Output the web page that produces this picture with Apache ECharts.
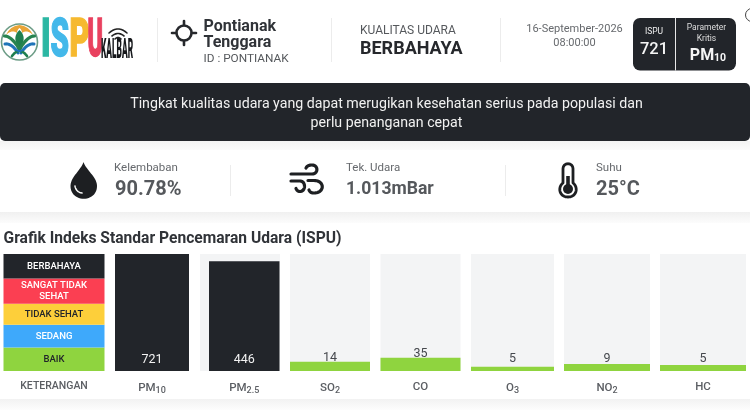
<!DOCTYPE html>
<html>
<head>
<meta charset="utf-8">
<style>html,body{margin:0;padding:0;background:#fff}#c{width:750px;height:420px;filter:blur(0.35px)}</style>
<script src="https://cdn.jsdelivr.net/npm/echarts@6/dist/echarts.min.js"></script>
</head>
<body>
<div id="c"></div>
<script>
// ---- data ----
var parameters = ['PM{s|10}', 'PM{s|2.5}', 'SO{s|2}', 'CO', 'O{s|3}', 'NO{s|2}', 'HC'];
var ispuValues = [721, 446, 14, 35, 5, 9, 5];
var fillLevels = [100, 93.7, 8, 11.4, 3.7, 6, 5.1];   // visible fill height, % of the track
var legendLabels = ['BAIK', 'SEDANG', 'TIDAK SEHAT', 'SANGAT TIDAK\nSEHAT', 'BERBAHAYA'];
var legendShares = [20, 19.5, 18, 21.5, 21];
var legendTitle = 'KETERANGAN';

// ---- layout and style ----
var DARK = '#22252a', GREEN = '#8fd43f', TRACK = '#f3f4f5';
var legendColors = [GREEN, '#3ea9fb', '#fdcf3a', '#fb3f52', DARK];
var legendText = [DARK, '#fff', DARK, '#fff', '#fff'];
var barLeft = [115, 209, 290, 380.5, 471, 564, 660];
var barRight = [189, 279.5, 370, 460.5, 554, 650, 746];
var labelGap = [0, 0, -3, -3, 1, -1, 0];
var TOP = 254, H = 117;
var base = 'Roboto, sans-serif';

var grids = [], xAxes = [], yAxes = [], series = [];
function addPanel(left, right, cat, size) {
  var i = grids.length;
  grids.push({left: left, width: right - left, top: TOP, height: H});
  xAxes.push({type: 'category', gridIndex: i, data: [cat],
    axisLine: {show: false}, axisTick: {show: false},
    axisLabel: {margin: 10, color: '#5b5e63', fontFamily: base, fontSize: size, fontWeight: 500,
      rich: {s: {fontSize: 9, fontFamily: base, fontWeight: 500, color: '#5b5e63', padding: [5, 0, 0, 0]}}}});
  yAxes.push({type: 'value', gridIndex: i, min: 0, max: 100, show: false});
  return i;
}
var li = addPanel(3.5, 104.5, legendTitle, 10.5);
legendLabels.forEach(function (name, k) {
  series.push({type: 'bar', xAxisIndex: li, yAxisIndex: li, stack: 'legend', barWidth: '100%', name: name,
    data: [legendShares[k]], itemStyle: {color: legendColors[k]}, silent: true,
    label: {show: true, position: 'inside', formatter: name, color: legendText[k],
      fontFamily: base, fontSize: 9.5, fontWeight: 500, lineHeight: 11}});
});
parameters.forEach(function (p, k) {
  var g = addPanel(barLeft[k], barRight[k], p, 11.5);
  var high = ispuValues[k] > 300;
  series.push({type: 'bar', xAxisIndex: g, yAxisIndex: g, barWidth: '100%', name: p,
    data: [fillLevels[k]], itemStyle: {color: high ? DARK : GREEN}, silent: true,
    showBackground: k !== 1, backgroundStyle: {color: TRACK},
    label: {show: true, formatter: String(ispuValues[k]),
      position: high ? 'insideBottom' : 'top', distance: high ? 5 : labelGap[k],
      color: high ? '#f2f2f2' : '#45484d', fontFamily: base, fontSize: 12.5}});
});

function T(text, x, y, font, fill, align, extra) {
  var o = {type: 'text', silent: true, style: {text: text, x: x, y: y, font: font, fill: fill,
    textAlign: align || 'left', textVerticalAlign: 'middle'}};
  if (extra) for (var k in extra) o[k] = extra[k];
  return o;
}
function R(x, y, w, h, fill, r) {
  return {type: 'rect', silent: true, shape: {x: x, y: y, width: w, height: h, r: r || 0}, style: {fill: fill}};
}
// decorative icon outlines: absolute M/H/V/Q/C/Z commands flattened to polylines and polygons
function P(d, style) {
  var tok = d.match(/[MHVQCZ]|-?[\d.]+/g), i = 0, out = [], pts = null, x = 0, y = 0, closed = false;
  function flush() {
    if (pts && pts.length > 1) {
      out.push({type: closed ? 'polygon' : 'polyline', silent: true, shape: {points: pts}, style: style});
    }
    pts = null; closed = false;
  }
  function n() { return parseFloat(tok[i++]); }
  while (i < tok.length) {
    var c = tok[i++], t, s;
    if (c === 'M') { flush(); x = n(); y = n(); pts = [[x, y]]; }
    else if (c === 'H') { x = n(); pts.push([x, y]); }
    else if (c === 'V') { y = n(); pts.push([x, y]); }
    else if (c === 'Q') {
      var qx = n(), qy = n(), ex = n(), ey = n();
      for (s = 1; s <= 16; s++) { t = s / 16;
        pts.push([(1-t)*(1-t)*x + 2*t*(1-t)*qx + t*t*ex, (1-t)*(1-t)*y + 2*t*(1-t)*qy + t*t*ey]); }
      x = ex; y = ey;
    } else if (c === 'C') {
      var ax = n(), ay = n(), bx = n(), by = n(), fx = n(), fy = n();
      for (s = 1; s <= 24; s++) { t = s / 24; var u = 1 - t;
        pts.push([u*u*u*x + 3*u*u*t*ax + 3*u*t*t*bx + t*t*t*fx, u*u*u*y + 3*u*u*t*ay + 3*u*t*t*by + t*t*t*fy]); }
      x = fx; y = fy;
    } else if (c === 'Z') { closed = true; flush(); }
  }
  flush();
  return out;
}
function vGrad(a, b) {
  return {type: 'linear', x: 0, y: 0, x2: 0, y2: 1, colorStops: [{offset: 0, color: a}, {offset: 1, color: b}]};
}
function stroke(c, w) { return {fill: null, stroke: c, lineWidth: w, lineCap: 'round', lineJoin: 'round'}; }
function glyph(t, x, sx, c) {
  var o = T(t, 0, 0, '900 53px Roboto', c, 'left', {x: x, y: 42.5, scaleX: sx, scaleY: 1});
  o.style.stroke = c; o.style.lineWidth = 1.5;
  return o;
}

var graphics = [].concat(
  // page bands
  R(0, 141, 750, 9, vGrad('#f3f3f3', '#fbfbfb')),
  R(0, 212, 750, 11, vGrad('#f0f0f0', '#fcfcfc')),
  R(0, 399, 750, 11, vGrad('#f2f2f2', '#fdfdfd')),
  // PM2.5 track
  R(200, TOP, 80, H, TRACK),

  // logo
  {type: 'circle', silent: true, shape: {cx: 19.5, cy: 42, r: 18}, style: {fill: '#fff', stroke: '#6c9c86', lineWidth: 1.6}},
  P('M6 35 Q10 26 19.5 25 Q29 26 33 35 Q27 29 22 33 Q22 30 19.5 28 Q17 30 17 33 Q12 29 6 35Z', {fill: '#e9a436'}),
  P('M19.5 30 C26 36 24 43 19.5 48 C15 43 13 36 19.5 30Z', {fill: '#1f7f4f'}),
  P('M4.5 36 C10 36 16 43 19 49 M34.5 36 C29 36 23 43 20 49', stroke('#27834f', 3.2)),
  P('M5 44 C10 43 15 48 18 53 M34 44 C29 43 24 48 21 53', stroke('#1f74b8', 3)),
  P('M12 56 Q19.5 46 27 56', stroke('#1f7f4f', 2.6)),
  P('M14 48 Q19.5 54 25 48', stroke('#1f74b8', 2)),
  glyph('I', 41, 0.60, '#2bb7a3'),
  glyph('S', 50.5, 0.56, '#43b8ea'),
  glyph('P', 69.5, 0.58, '#f6b92f'),
  glyph('U', 87.5, 0.44, '#e9415f'),
  T('KALBAR', 0, 0, '900 27px Roboto', '#16181b', 'left', {x: 101, y: 51.5, scaleX: 0.31, scaleY: 1}),
  P('M109 33 Q118 25 127 33', stroke('#222', 1.6)),
  P('M112 36 Q118 31 124 36', stroke('#222', 1.6)),
  P('M115 39 Q118 36 121 39', stroke('#222', 1.6)),
  R(157, 18, 1, 44, '#ececec'),

  // station
  {type: 'circle', silent: true, shape: {cx: 184, cy: 33, r: 7.5}, style: {fill: null, stroke: '#26282c', lineWidth: 2.6}},
  P('M172 33 H176 M192 33 H196 M184 21 V25 M184 41 V45', stroke('#26282c', 2.6)),
  T('Pontianak', 203.5, 26.5, '700 16px Roboto', '#303338'),
  T('Tenggara', 203.5, 42.5, '700 16px Roboto', '#303338'),
  T('ID : PONTIANAK', 203.5, 59, '11.8px Roboto', '#55585c'),
  R(331, 18, 1, 44, '#ececec'),

  // quality
  T('KUALITAS UDARA', 360, 30.5, '12px Roboto', '#55585c'),
  T('BERBAHAYA', 360, 49, '700 18px Roboto', '#26282c'),
  R(500, 18, 1, 44, '#ececec'),

  // date
  T('16-September-2026', 574.5, 29.5, '11px Roboto', '#66696d', 'center'),
  T('08:00:00', 574.5, 43.5, '11px Roboto', '#66696d', 'center'),

  // badge
  R(633, 18, 103, 52.5, DARK, 7),
  R(675, 18, 1, 52.5, '#e8e8e8'),
  T('ISPU', 654, 32, '8.5px Roboto', '#eee', 'center'),
  T('721', 654, 49.5, '500 16.5px Roboto', '#f5f5f5', 'center'),
  T('Parameter', 706.5, 28, '8.5px Roboto', '#ddd', 'center'),
  T('Kritis', 706.5, 39, '8.5px Roboto', '#ddd', 'center'),
  T('PM', 702, 55.5, '700 16px Roboto', '#f5f5f5', 'center'),
  T('10', 720, 58, '700 10.5px Roboto', '#f5f5f5', 'center'),
  {type: 'arc', silent: true, shape: {cx: 752, cy: 15, r: 6.5, startAngle: 1.57, endAngle: 4.71}, style: {fill: null, stroke: '#444', lineWidth: 1}},

  // banner
  R(0, 83, 750, 58, DARK, 5),
  T('Tingkat kualitas udara yang dapat merugikan kesehatan serius pada populasi dan', 386.5, 104.5, '14.2px Roboto', '#f1f1f1', 'center'),
  T('perlu penanganan cepat', 386.5, 123, '14.2px Roboto', '#f1f1f1', 'center'),

  // humidity
  P('M83.5 162 C86 170 97 177 97 186 C97 203 70.5 203 70.5 186 C70.5 177 81 170 83.5 162Z', {fill: '#1d1f22'}),
  P('M75 186 Q76 192 82 193', stroke('#fff', 1.5)),
  T('Kelembaban', 114, 168.5, '11.5px Roboto', '#66696d'),
  T('90.78%', 115, 189.5, '700 20px Roboto', '#55585c'),
  R(230, 165, 1, 31, '#ececec'),

  // pressure
  P('M291 174 H312 C318.5 174 318.5 165 312 165 C309 165 307 166 306 168', stroke('#1d1f22', 3.2)),
  P('M291 181 H300 C306 181 306 191.5 300 191.5 C298 191.5 297 190.5 296 188.5', stroke('#1d1f22', 3.2)),
  P('M308 180.5 H314 C325 180.5 325 193 314 193 C311 193 310 192 309 190', stroke('#1d1f22', 3.2)),
  T('Tek. Udara', 346, 168.5, '11.5px Roboto', '#66696d'),
  T('1.013mBar', 346, 189.5, '700 17.6px Roboto', '#55585c'),
  R(505, 165, 1, 31, '#ececec'),

  // temperature
  P('M563 183 V169 C563 162 573 162 573 169 V183 C578.5 187 577 197 568 197 C559 197 557.5 187 563 183Z', stroke('#1d1f22', 2.8)),
  {type: 'circle', silent: true, shape: {cx: 568, cy: 189, r: 5}, style: {fill: '#1d1f22'}},
  R(566.2, 176, 3.6, 12, '#1d1f22'),
  T('Suhu', 596, 168.5, '11.5px Roboto', '#66696d'),
  T('25°C', 596, 189.5, '700 20px Roboto', '#55585c'),

  // title
  T('Grafik Indeks Standar Pencemaran Udara (ISPU)', 3.5, 239, '700 15.6px Roboto', '#303338')
);

var chart = echarts.init(document.getElementById('c'), null, {renderer: 'canvas', width: 750, height: 420});
chart.setOption({
  animation: false,
  backgroundColor: '#fff',
  textStyle: {fontFamily: base},
  grid: grids, xAxis: xAxes, yAxis: yAxes, series: series,
  graphic: {elements: graphics}
});
</script>
</body>
</html>
